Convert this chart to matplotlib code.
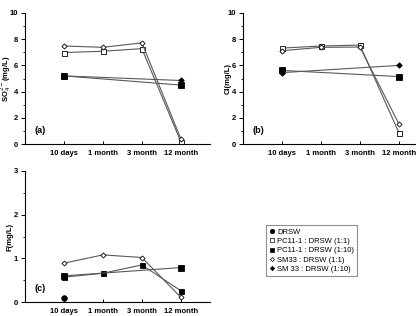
import numpy as np
import matplotlib
matplotlib.use('Agg')
import matplotlib.pyplot as plt
from matplotlib.ticker import MultipleLocator
from matplotlib.lines import Line2D

plt.rcParams['font.family'] = ['Liberation Sans', 'DejaVu Sans']

# Categorias de tiempo
tiempos = ['10 days', '1 month', '3 month', '12 month']
x = np.array([1, 2, 3, 4])
nan = np.nan

# (a) SO4
so4_drsw = [5.2, nan, nan, nan]
so4_pc_11 = [6.98, 7.08, 7.28, 0.18]
so4_pc_110 = [5.2, nan, nan, 4.5]
so4_sm_11 = [7.48, 7.38, 7.72, 0.4]
so4_sm_110 = [5.2, nan, nan, 4.85]

# (b) Cl
cl_drsw = [5.55, nan, nan, nan]
cl_pc_11 = [7.32, 7.48, 7.55, 0.88]
cl_pc_110 = [5.62, nan, nan, 5.15]
cl_sm_11 = [7.12, 7.38, 7.4, 1.55]
cl_sm_110 = [5.45, nan, nan, 6.0]

# (c) F  (en (c) solo se ven cuadrados llenos)
f_drsw = [0.1, nan, nan, nan]
f_pc_11 = [0.57, 0.66, 0.85, 0.26]
f_pc_110 = [0.6, nan, nan, 0.79]
f_sm_11 = [0.89, 1.08, 1.02, 0.11]
f_sm_110 = [nan, nan, nan, nan]

nombres = ['DRSW', 'PC11-1 : DRSW (1:1)', 'PC11-1 : DRSW (1:10)',
           'SM33 : DRSW (1:1)', 'SM 33 : DRSW (1:10)']

estilos = [
    dict(marker='o', mfc='black', ms=4.0),
    dict(marker='s', mfc='white', ms=3.6),
    dict(marker='s', mfc='black', ms=3.8),
    dict(marker='D', mfc='white', ms=2.6),
    dict(marker='D', mfc='black', ms=2.8),
]

fig = plt.figure(figsize=(4.16, 3.16), dpi=100)
ancho = 0.445
alto = 0.415
ax1 = fig.add_axes([0.06, 0.544, ancho, alto])
ax2 = fig.add_axes([0.584, 0.544, ancho, alto])
ax3 = fig.add_axes([0.06, 0.044, ancho, alto])


def dibujar(ax, series, ymax, etiqueta, letra, mayor, colores_rellenos=None):
    for i, (datos, est) in enumerate(zip(series, estilos)):
        d = np.array(datos, dtype=float)
        m = ~np.isnan(d)
        if not m.any():
            continue
        mfc = est['mfc']
        if colores_rellenos is not None and i in colores_rellenos:
            mfc = 'black'
        ax.plot(x[m], d[m], color='0.35', linewidth=0.8, marker=est['marker'],
                markerfacecolor=mfc, markeredgecolor='black',
                markeredgewidth=0.6, markersize=est['ms'])
    ax.set_xlim(0, 4.75)
    ax.set_ylim(0, ymax)
    ax.set_xticks(x)
    ax.set_xticklabels(tiempos, fontsize=5.5, fontweight='bold')
    ax.yaxis.set_major_locator(MultipleLocator(mayor))
    ax.yaxis.set_minor_locator(MultipleLocator(mayor / 2))
    for t in ax.get_yticklabels():
        t.set_fontsize(5.5)
        t.set_fontweight('bold')
    ax.tick_params(axis='x', direction='in', length=2.5, width=0.7, pad=4)
    ax.tick_params(axis='y', which='major', direction='out', length=3, width=0.7, pad=2)
    ax.tick_params(axis='y', which='minor', direction='out', length=1.8, width=0.6)
    ax.spines['top'].set_visible(False)
    ax.spines['right'].set_visible(False)
    ax.spines['left'].set_linewidth(0.8)
    ax.spines['bottom'].set_linewidth(0.8)
    ax.set_ylabel(etiqueta, fontsize=5.5, fontweight='bold')
    ax.yaxis.set_label_coords(-0.062, 0.5)
    ax.text(0.05, 0.1, letra, transform=ax.transAxes, fontsize=6.5,
            fontweight='bold', va='center', ha='left')


dibujar(ax1, [so4_drsw, so4_pc_11, so4_pc_110, so4_sm_11, so4_sm_110],
        10, r'SO$_4^{2-}$(mg/L)', '(a)', 2)
dibujar(ax2, [cl_drsw, cl_pc_11, cl_pc_110, cl_sm_11, cl_sm_110],
        10, 'Cl(mg/L)', '(b)', 2)
dibujar(ax3, [f_drsw, f_pc_11, f_pc_110, f_sm_11, f_sm_110],
        3, 'F(mg/L)', '(c)', 1, colores_rellenos=[1])

manijas = [Line2D([], [], linestyle='none', marker=e['marker'],
                  markerfacecolor=e['mfc'], markeredgecolor='black',
                  markeredgewidth=0.5, markersize=e['ms'] * 0.8)
           for e in estilos]
leg = fig.legend(manijas, nombres, loc='upper left',
                 bbox_to_anchor=(0.630, 0.300), fontsize=5.5,
                 handlelength=0.6, handletextpad=0.4, labelspacing=0.25,
                 borderpad=0.45, frameon=True, fancybox=False)
leg.get_frame().set_edgecolor('0.45')
leg.get_frame().set_linewidth(0.8)

fig.savefig('out.png', dpi=100)
